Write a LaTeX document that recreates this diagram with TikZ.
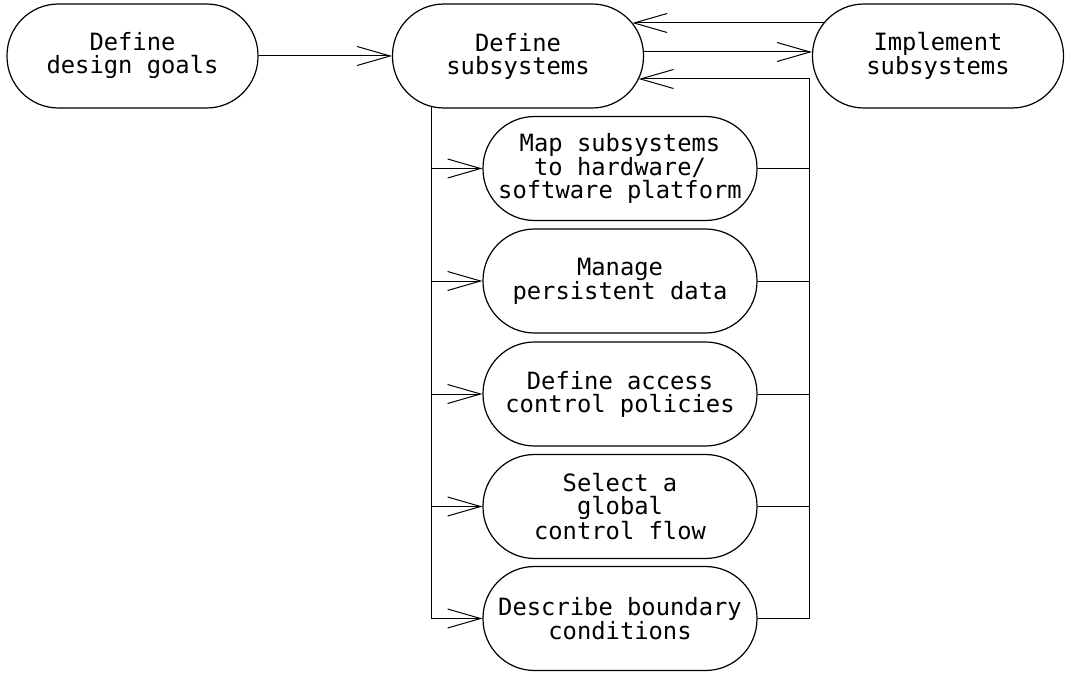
\documentclass[tikz,border=0pt]{standalone}
\usepackage{fontspec}
\setmonofont{DejaVu Sans Mono}
\usetikzlibrary{arrows.meta,calc}
\begin{document}
\begin{tikzpicture}[x=1pt,y=-1pt,
  base/.style={draw, line width=1.2pt, rounded corners=51.5pt, minimum height=104pt, inner sep=0pt, align=center, font=\ttfamily\fontsize{23.8}{23}\selectfont},
  goal/.style={base, minimum width=251pt},
  task/.style={base, minimum width=274pt},
  conn/.style={line width=1pt},
  flow/.style={conn, -{Straight Barb[length=33pt,width=19pt,line width=1pt]}}]
\useasboundingbox (0,0) rectangle (1073,682);
\node[goal] (dg) at (132.5,56) {Define\\design goals};
\node[goal] (ds) at (518,56) {Define\\subsystems};
\node[goal] (im) at (938,56) {Implement\\subsystems};
\node[task] (t1) at (620,168.5) {Map subsystems\\to hardware/\\software platform};
\node[task] (t2) at (620,281) {Manage\\persistent data};
\node[task] (t3) at (620,394) {Define access\\control policies};
\node[task] (t4) at (620,506.5) {Select a\\global\\control flow};
\node[task] (t5) at (620,618.5) {Describe boundary\\conditions};
\coordinate (rr) at (809,79);
\coordinate (ll) at (431,618.5);
% top row
\draw[flow] (dg) -- (ds);
\draw[flow] ([yshift=4pt]ds.east) -- ([yshift=4pt]im.west);
\draw[flow] ([xshift=12pt,yshift=33pt]im.west) -- ([xshift=-11.8pt,yshift=33pt]ds.east);
% left distribution bus
\draw[conn] ($(ds.south -| ll)+(0,-2)$) -- (ll);
\foreach \t in {t1,t2,t3,t4,t5}{
  \draw[flow] (\t.west -| ll) -- (\t.west);
}
% right return bus
\draw[flow] (t5.east) -| (rr) -- ([xshift=-5.4pt,yshift=-23pt]ds.east);
\foreach \t in {t1,t2,t3,t4}{
  \draw[conn] (\t.east) -- (\t.east -| rr);
}
\end{tikzpicture}
\end{document}
